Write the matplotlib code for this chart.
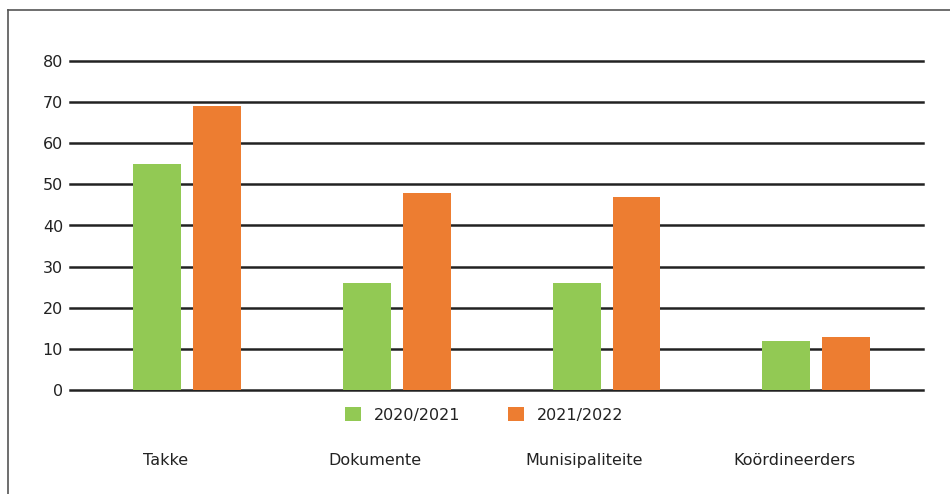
import matplotlib.pyplot as plt
import numpy as np
from matplotlib.lines import Line2D

plt.rcParams['font.family'] = ['DejaVu Sans']

categories = ['Takke', 'Dokumente', 'Munisipaliteite', 'Koördineerders']
vals_2021 = [55, 26, 26, 12]
vals_2022 = [69, 48, 47, 13]
series_names = ['2020/2021', '2021/2022']
yticks = [0, 10, 20, 30, 40, 50, 60, 70, 80]

green = '#92c954'
orange = '#ed7d31'

fig = plt.figure(figsize=(9.5, 4.94), dpi=100)
ax = fig.add_axes([70/950, 1-390/494, (923-70)/950, (390-61)/494])

x = np.arange(len(categories))
w = 0.229
ax.bar(x - 0.143, vals_2021, width=w, color=green, label=series_names[0], zorder=3)
ax.bar(x + 0.143, vals_2022, width=w, color=orange, label=series_names[1], zorder=3)

for v in yticks:
    ax.axhline(v, color='#222222', lw=1.8, zorder=2, clip_on=False)

ax.set_xlim(-0.56, 3.51)
ax.set_ylim(0, 80)
ax.set_yticks(yticks)
ax.set_yticklabels([str(v) for v in yticks], fontsize=11.5, color='#222222')
# category labels sit a bit left of the bar pairs
ax.set_xticks(x - 0.105)
ax.set_xticklabels(categories, fontsize=11.5, color='#222222')
ax.tick_params(axis='both', length=0)
ax.tick_params(axis='y', pad=5)
ax.tick_params(axis='x', pad=45)
for s in ax.spines.values():
    s.set_visible(False)

fig.legend(loc='center', bbox_to_anchor=(484/950, 1-415/494), ncol=2, frameon=False,
           fontsize=11.5, handlelength=1.0, handleheight=1.0, columnspacing=3.0,
           handletextpad=0.8, labelcolor='#222222')

# outer frame
fig.add_artist(Line2D([8/950, 8/950], [0, 1-10/494], color='#555555', lw=1.2, transform=fig.transFigure))
fig.add_artist(Line2D([8/950, 1], [1-10/494, 1-10/494], color='#555555', lw=1.2, transform=fig.transFigure))

plt.savefig('out.png', dpi=100)
